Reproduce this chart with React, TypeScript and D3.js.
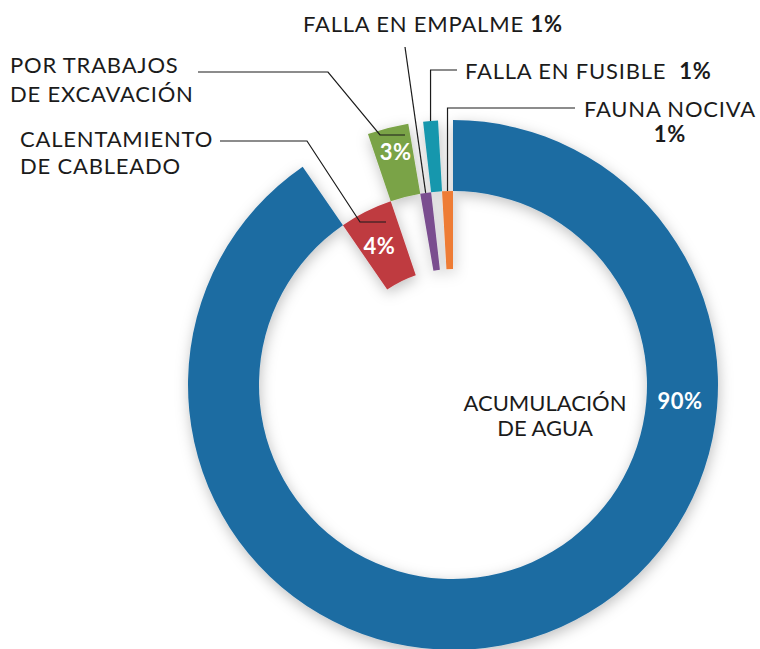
import React from "react";
import * as d3 from "d3";

// Causes of faults, share of total (%)
const categories = [
  "ACUMULACIÓN DE AGUA",
  "CALENTAMIENTO DE CABLEADO",
  "POR TRABAJOS DE EXCAVACIÓN",
  "FALLA EN EMPALME",
  "FALLA EN FUSIBLE",
  "FAUNA NOCIVA",
];
const values = [90.4, 4.4, 2.5, 0.9, 0.9, 0.9];
const colors = ["#1e6ca2", "#bf3a40", "#7aa346", "#7a4e8f", "#1797ad", "#ee7c34"];

const W = 760;
const H = 649;
const cx = 453;
const cy = 385;
const rIn = 116;
const rMid = 194;
const rOut = 265;
const FONT = "Lato, 'Open Sans', sans-serif";
const INK = "#1b1b1b";

const pct = (v: number) => `${Math.round(v)}%`;

export default function App() {
  const pie = d3.pie<number>().sort(null).value((d) => d)(values);
  // the big slice and every other small slice sit on the outer band,
  // the rest are pulled in to the inner band
  const outerArc = d3.arc<d3.PieArcDatum<number>>().innerRadius(rMid).outerRadius(rOut);
  const innerArc = d3.arc<d3.PieArcDatum<number>>().innerRadius(rIn).outerRadius(rMid);
  const arcFor = (i: number) => (i % 2 === 1 ? innerArc : outerArc);

  const polar = (a: number, r: number): [number, number] => [
    cx + r * Math.sin(a),
    cy - r * Math.cos(a),
  ];
  const mid = (i: number) => (pie[i].startAngle + pie[i].endAngle) / 2;
  const line = d3.line();

  const leaders: [number, number][][] = [
    [[220, 141], [307, 141], [360, 222], [386, 222]],
    [[198, 72], [328, 72], [380, 135], [405, 135]],
    [[405, 47], polar(mid(3), rMid)],
    [polar(mid(4), rOut), [polar(mid(4), rOut)[0], 70], [457, 70]],
    [polar(mid(5), rMid), [polar(mid(5), rMid)[0], 108], [575, 108]],
  ];

  const c1 = outerArc.centroid(pie[2]);
  const c2 = innerArc.centroid(pie[1]);

  return (
    <svg
      width={W}
      height={H}
      style={{ position: "absolute", left: 0, top: 0, background: "#fff" }}
      fontFamily={FONT}
    >
      <defs>
        <filter id="sh" x="-20%" y="-20%" width="140%" height="140%">
          <feDropShadow dx="1" dy="4" stdDeviation="7" floodColor="#000" floodOpacity="0.25" />
        </filter>
      </defs>
      <g transform={`translate(${cx},${cy})`} filter="url(#sh)">
        {pie.map((p, i) => (
          <path key={categories[i]} d={arcFor(i)(p) || ""} fill={colors[i]} />
        ))}
      </g>

      {leaders.map((pts, i) => (
        <path key={i} d={line(pts) || ""} fill="none" stroke={INK} strokeWidth={1.2} />
      ))}

      {/* slice percentages */}
      <g fill="#fff" fontWeight={700} fontSize={22} textAnchor="middle" letterSpacing={0.5}>
        <text x={c2[0] + cx - 4} y={c2[1] + cy + 8}>{pct(values[1])}</text>
        <text x={c1[0] + cx - 1} y={c1[1] + cy - 3}>{pct(values[2])}</text>
        <text x={680} y={409}>{pct(values[0])}</text>
      </g>

      <g fill={INK} fontSize={22} fontWeight={400} letterSpacing={0.8}>
        <text x={545} y={411} textAnchor="middle" letterSpacing={0}>ACUMULACIÓN</text>
        <text x={545} y={436} textAnchor="middle" letterSpacing={0}>DE AGUA</text>

        <text x={20} y={147}>CALENTAMIENTO</text>
        <text x={20} y={174}>DE CABLEADO</text>

        <text x={10} y={73}>POR TRABAJOS</text>
        <text x={10} y={102}>DE EXCAVACIÓN</text>

        <text x={303} y={32}>
          FALLA EN EMPALME <tspan fontWeight={700}>{pct(values[3])}</tspan>
        </text>
        <text x={465} y={79} xmlSpace="preserve">
          FALLA EN FUSIBLE  <tspan fontWeight={700}>{pct(values[4])}</tspan>
        </text>
        <text x={670} y={117} textAnchor="middle">FAUNA NOCIVA</text>
        <text x={670} y={142} textAnchor="middle" fontWeight={700}>{pct(values[5])}</text>
      </g>
    </svg>
  );
}
